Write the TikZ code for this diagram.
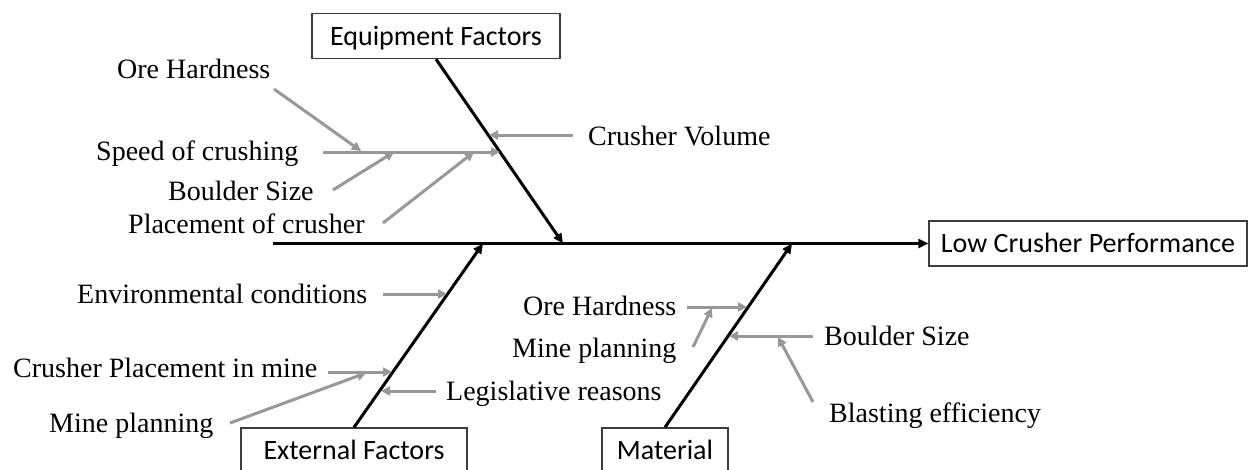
\documentclass[tikz,border=0pt]{standalone}
\usepackage{fontspec}
\setmainfont{Liberation Serif}
\newfontfamily\catfont{Carlito}
\usetikzlibrary{arrows.meta}
\definecolor{causegray}{RGB}{152,152,152}
\definecolor{boxline}{RGB}{60,60,60}
\newcommand{\causefont}{\fontsize{28pt}{32pt}\selectfont}
\newcommand{\boxfont}{\catfont\fontsize{28pt}{32pt}\selectfont}
\tikzset{
  bone/.style={draw=black, line width=3pt, -{Triangle[length=10pt,width=9pt]}},
  cause/.style={draw=causegray, line width=3pt, -{Triangle[length=9pt,width=9pt]}},
  causetext/.style={font=\causefont, inner sep=0pt, anchor=base west},
  catbox/.style={draw=boxline, line width=1.3pt, font=\boxfont, inner sep=0pt,
    minimum height=45pt, text height=22pt, text depth=4pt}
}
\begin{document}
\begin{tikzpicture}[x=1pt,y=-1pt]
\clip (0,0) rectangle (1249,469);

% category boxes and the effect
\node[catbox, minimum width=248pt] (equip) at (436,36) {Equipment Factors};
\node[catbox, minimum width=318pt] (effect) at (1088,243.5) {Low Crusher Performance};
\node[catbox, minimum width=226pt] (extern) at (354,450.5) {External Factors};
\node[catbox, minimum width=126pt] (material) at (665,450.5) {Material};

% main spine
\coordinate (tail) at (273,243.5);
\draw[bone] (tail) -- (effect.west);

% category bones
\coordinate (equipEnd) at (563,243.5);
\coordinate (externEnd) at (483,243.5);
\coordinate (materialEnd) at (792,243.5);
\draw[bone] (equip.south) -- (equipEnd);
\draw[bone] (extern.north) -- (externEnd);
\draw[bone] (material.north) -- (materialEnd);

% ---- Equipment Factors causes ----
\node[causetext] (eqOre) at (117,78) {Ore Hardness};
\node[causetext] (eqSpeed) at (96,160) {Speed of crushing};
\node[causetext] (eqBoulder) at (168,200) {Boulder Size};
\node[causetext] (eqPlace) at (128,233) {Placement of crusher};
\node[causetext] (eqVolume) at (588,145) {Crusher Volume};

\coordinate (speedStart) at (323,152);
\coordinate (speedEnd) at (500,152);
\coordinate (oreStart) at (274,89);
\coordinate (oreEnd) at (361,151);
\coordinate (boulderStart) at (333,190);
\coordinate (boulderEnd) at (394,152);
\coordinate (placeStart) at (383,223);
\coordinate (placeEnd) at (474,152);
\coordinate (volumeStart) at (573,135);
\coordinate (volumeEnd) at (489,135);
\draw[cause] (speedStart) -- (speedEnd);
\draw[cause] (oreStart) -- (oreEnd);
\draw[cause] (boulderStart) -- (boulderEnd);
\draw[cause] (placeStart) -- (placeEnd);
\draw[cause] (volumeStart) -- (volumeEnd);

% ---- External Factors causes ----
\node[causetext] (exEnv) at (77,303) {Environmental conditions};
\node[causetext] (exPlace) at (13,377) {Crusher Placement in mine};
\node[causetext] (exMine) at (49,432) {Mine planning};
\node[causetext] (exLaw) at (446,400) {Legislative reasons};

\coordinate (envStart) at (383,294);
\coordinate (envEnd) at (447,294);
\coordinate (cpStart) at (328,372);
\coordinate (cpEnd) at (392,372);
\coordinate (mineStart) at (230,423);
\coordinate (mineEnd) at (366,373);
\coordinate (lawStart) at (436,391);
\coordinate (lawEnd) at (381,391);
\draw[cause] (envStart) -- (envEnd);
\draw[cause] (cpStart) -- (cpEnd);
\draw[cause] (mineStart) -- (mineEnd);
\draw[cause] (lawStart) -- (lawEnd);

% ---- Material causes ----
\node[causetext] (maOre) at (523,315) {Ore Hardness};
\node[causetext] (maMine) at (512,357) {Mine planning};
\node[causetext] (maBoulder) at (824,345) {Boulder Size};
\node[causetext] (maBlast) at (829,422) {Blasting efficiency};

\coordinate (mOreStart) at (687,307);
\coordinate (mOreEnd) at (747,307);
\coordinate (mMineStart) at (693,347);
\coordinate (mMineEnd) at (712,308);
\coordinate (mBoulderStart) at (813,336);
\coordinate (mBoulderEnd) at (729,336);
\coordinate (mBlastStart) at (813,402);
\coordinate (mBlastEnd) at (778,337);
\draw[cause] (mOreStart) -- (mOreEnd);
\draw[cause] (mMineStart) -- (mMineEnd);
\draw[cause] (mBoulderStart) -- (mBoulderEnd);
\draw[cause] (mBlastStart) -- (mBlastEnd);
\end{tikzpicture}
\end{document}
